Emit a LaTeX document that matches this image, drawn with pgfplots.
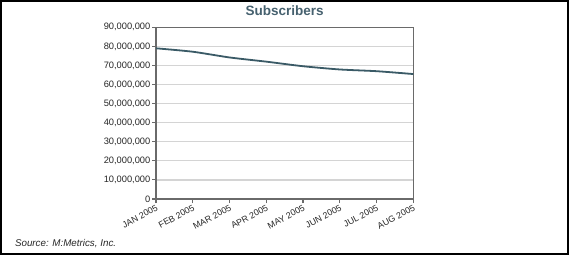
\documentclass[border=0pt]{standalone}
\usepackage{pgfplots}
\pgfplotsset{compat=1.18}
\usepackage{fontspec}
\setmainfont{Liberation Sans}
\definecolor{linec}{HTML}{3A5A66}
\definecolor{titlec}{HTML}{46616F}
\definecolor{gridc}{HTML}{D4D4D4}
\definecolor{axisc}{HTML}{6A6A6A}
\begin{document}
\begin{tikzpicture}[x=1pt,y=1pt]
\useasboundingbox (0,0) rectangle (569,255);
\fill[white] (0,0) rectangle (569,255);
\draw[black, line width=2pt] (1,1) rectangle (568,254);
\begin{axis}[
  at={(156pt,56pt)}, anchor=south west,
  scale only axis, width=257.3pt, height=171.7pt,
  xmin=0, xmax=7, ymin=0, ymax=90000000,
  xtick={0,1,2,3,4,5,6,7},
  xticklabels={JAN 2005,FEB 2005,MAR 2005,APR 2005,MAY 2005,JUN 2005,JUL 2005,AUG 2005},
  ytick={0,10000000,20000000,30000000,40000000,50000000,60000000,70000000,80000000,90000000},
  scaled y ticks=false,
  /pgf/number format/assume math mode=true,
  yticklabel style={/pgf/number format/fixed,/pgf/number format/1000 sep={,}, font=\fontsize{9.3}{10}\selectfont, text=black!85, inner sep=1.5pt},
  xticklabel style={rotate=28, anchor=north east, font=\fontsize{8.8}{10}\selectfont, text=black!85, inner sep=1pt},
  ymajorgrids, grid style={gridc, line width=1.2pt},
  axis line style={axisc, line width=1.2pt},
  tick style={axisc, line width=1.1pt},
  tick align=outside, major tick length=4pt,
  xtick pos=bottom, ytick pos=left,
]
\addplot[linec, line width=1.8pt, smooth, tension=0.4] coordinates {
  (0,79000000) (1,77200000) (2,74200000) (3,72000000) (4,69600000) (5,67900000) (6,67000000) (7,65500000)
};
\end{axis}
\node[anchor=base, font=\fontsize{13.5}{15}\selectfont\bfseries, text=titlec] at (284.7,239) {Subscribers};
\node[anchor=base west, font=\fontsize{9.8}{11}\selectfont\itshape, text=black!85] at (11.5,8.3) {Source: M:Metrics, Inc.};
\end{tikzpicture}
\end{document}
